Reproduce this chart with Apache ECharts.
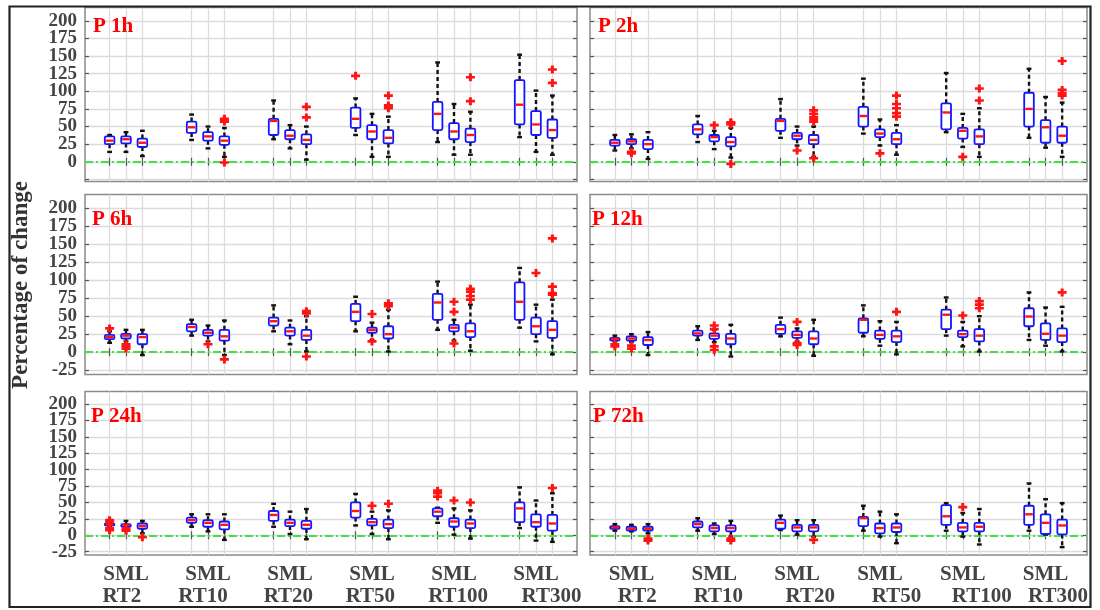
<!DOCTYPE html>
<html>
<head>
<meta charset="utf-8">
<script src="https://cdn.jsdelivr.net/npm/echarts@6/dist/echarts.min.js"></script>
<style>
  html, body { margin: 0; padding: 0; background: #fff; }
  #chart { width: 1100px; height: 610px; }
</style>
</head>
<body>
<div id="chart"></div>
<script>
// Return periods (groups) and catchment sizes (boxes inside each group)
const returnPeriods = ['RT2', 'RT10', 'RT20', 'RT50', 'RT100', 'RT300'];
const sizes = ['S', 'M', 'L'];
const panelTitles = ['P 1h', 'P 2h', 'P 6h', 'P 12h', 'P 24h', 'P 72h'];
const yTickValues = [-25, 0, 25, 50, 75, 100, 125, 150, 175, 200];

// Box statistics, one row per box: [lower whisker, Q1, median, Q3, upper whisker]
// Order: RT2 S,M,L, RT10 S,M,L, ... RT300 S,M,L
const p1hBoxes = [
  [14, 25, 30, 36, 38], [14, 26, 32, 36, 42], [8, 21, 27, 33, 44],
  [31, 41, 49, 57, 67], [19, 30, 36, 42, 50], [7, 24, 30, 36, 48],
  [32, 38, 58, 61, 87], [19, 32, 37, 45, 52], [3, 25, 31, 39, 50],
  [38, 48, 61, 77, 90], [7, 32, 43, 52, 68], [7, 26, 34, 45, 64],
  [28, 45, 68, 85, 141], [10, 32, 43, 55, 82], [10, 28, 38, 47, 71],
  [35, 53, 81, 116, 152], [14, 38, 53, 72, 101], [10, 34, 45, 60, 94]
];
// Outliers: [box index, value]
const p1hOutliers = [
  [5, 57], [5, 59], [5, 61], [5, -1], [8, 63], [8, 78], [9, 122],
  [11, 76], [11, 78], [11, 80], [11, 94], [14, 86], [14, 120], [17, 112], [17, 131]
];

const p2hBoxes = [
  [16, 23, 27, 31, 38], [19, 25, 29, 32, 39], [4, 18, 25, 31, 42],
  [28, 39, 46, 53, 65], [18, 29, 35, 38, 44], [6, 22, 28, 35, 48],
  [34, 44, 58, 61, 89], [23, 32, 37, 41, 50], [7, 25, 31, 38, 50],
  [40, 50, 65, 78, 118], [23, 35, 40, 46, 60], [10, 25, 32, 41, 52],
  [42, 46, 70, 83, 126], [21, 33, 44, 48, 68], [7, 25, 36, 46, 76],
  [34, 50, 75, 98, 132], [20, 27, 49, 59, 92], [7, 27, 37, 50, 84]
];
const p2hOutliers = [
  [1, 12], [1, 14], [4, 52], [5, 53], [5, 55], [5, 56], [5, -3],
  [7, 16], [8, 57], [8, 60], [8, 63], [8, 68], [8, 73], [8, 5],
  [10, 12], [11, 64], [11, 69], [11, 76], [11, 82], [11, 94],
  [13, 7], [14, 87], [14, 104], [17, 94], [17, 97], [17, 102], [17, 143]
];

const p6hBoxes = [
  [13, 18, 21, 24, 29], [15, 19, 23, 25.5, 31], [-4, 11, 21, 25, 31],
  [23, 29, 35, 39, 45], [15, 23, 27, 31, 37], [-4, 16, 22, 31, 44],
  [29, 37, 43, 48, 65], [11, 23, 29, 34, 44], [1, 17, 23, 31, 50],
  [29, 43, 56, 67, 77], [17, 27, 31, 34, 41], [1, 19, 25, 36, 59],
  [31, 45, 69, 81, 98], [16, 29, 34, 38, 45], [2, 21, 29, 40, 66],
  [34, 45, 70, 97, 117], [15, 25, 36, 48, 66], [-3, 20, 31, 43, 73]
];
const p6hOutliers = [
  [0, 33], [1, 5], [1, 8], [1, 11], [4, 11], [5, -10], [8, 54], [8, 57], [8, -6],
  [10, 15], [10, 53], [11, 64], [11, 66], [11, 68], [13, 12], [13, 56], [13, 70],
  [14, 73], [14, 78], [14, 84], [14, 88], [16, 110], [17, 80], [17, 82], [17, 91], [17, 158]
];

const p12hBoxes = [
  [15, 16, 18.5, 20, 23], [14, 16, 19, 22, 25], [-4, 10, 17, 21, 28],
  [17, 23, 26, 30, 36], [14, 18.5, 23, 26, 31], [-6, 11, 19, 25.5, 38],
  [22, 25.5, 32, 38, 48], [15, 20, 24, 29, 33], [-5, 11, 19, 29, 45],
  [22, 27, 45, 47, 65], [9, 18.5, 24, 30, 43], [-3, 14, 22, 30, 42],
  [23, 32, 52, 59, 76], [8, 21, 25, 30, 42], [1, 15, 23, 32, 50],
  [17, 36, 49.5, 61, 83], [9, 17, 25.5, 40, 62], [1, 14, 23, 33, 63]
];
const p12hOutliers = [
  [0, 8], [0, 11], [1, 5], [1, 9], [4, 3], [4, 8], [4, 32], [4, 37],
  [7, 10], [7, 12.5], [7, 42], [11, 56], [13, 51], [14, 61], [14, 66], [14, 71], [17, 83]
];

const p24hBoxes = [
  [13, 15, 16.7, 18, 19], [12, 13, 15.7, 17, 22], [3, 10, 14, 18, 22],
  [13, 19, 23, 27, 32], [6, 13, 19, 23, 32], [-7, 9, 16, 21, 32],
  [13, 22, 31, 37, 48], [2, 14, 19, 24, 36], [-6, 10, 16, 22, 40],
  [15, 27, 37, 50, 63], [2, 15, 20, 25, 36], [-6, 11, 17, 24, 38],
  [19, 29, 36, 41, 42], [1, 13, 21, 26, 41], [-5, 11, 18, 24, 38],
  [11, 20, 41, 50, 73], [-8, 13, 20, 32, 53], [-10, 7, 18, 31, 64]
];
const p24hOutliers = [
  [0, 8], [0, 11], [0, 21], [0, 23], [1, 7], [1, 10], [2, -3],
  [10, 45], [11, 48], [12, 59], [12, 64], [12, 68], [13, 53], [14, 50], [17, 72]
];

const p72hBoxes = [
  [7, 10, 12, 14, 17], [6, 7, 10, 13, 16], [3, 7, 10, 13, 17],
  [7, 12, 17, 21, 26], [2, 6, 11, 15, 18], [-2, 6, 11, 15, 22],
  [8, 10, 19, 24, 30], [1, 6, 12, 16, 23], [-2, 6, 12, 16, 23],
  [7, 14, 26, 28, 45], [-2, 3, 11, 18, 36], [-12, 5, 12, 18, 32],
  [7, 16, 29, 46, 49], [-2, 6, 12, 19, 34], [-14, 6, 13, 19, 40],
  [7, 16, 32, 45, 79], [1, 2, 19, 32, 55], [-18, 1.5, 15, 24, 49]
];
const p72hOutliers = [
  [2, -5], [2, -8], [5, -5], [5, -8], [8, -7], [13, 43]
];

// Horizontal placement of the return-period names under each group (in axis units)
const rtLabelShiftLeft = [-0.05, -0.06, -0.02, -0.02, 0.05, 0.19];
const rtLabelShiftRight = [0.07, 0.05, 0.16, 0.2, 0.23, 0.15];

const panels = [
  { title: panelTitles[0], boxes: p1hBoxes, outliers: p1hOutliers },
  { title: panelTitles[1], boxes: p2hBoxes, outliers: p2hOutliers },
  { title: panelTitles[2], boxes: p6hBoxes, outliers: p6hOutliers },
  { title: panelTitles[3], boxes: p12hBoxes, outliers: p12hOutliers },
  { title: panelTitles[4], boxes: p24hBoxes, outliers: p24hOutliers },
  { title: panelTitles[5], boxes: p72hBoxes, outliers: p72hOutliers }
];

// Panel geometry
const layout = [
  { left: 85,  top: 7.5,   width: 492, height: 174,   yMin: -28, tx: 93,  ty: 26.5 },
  { left: 590, top: 7.5,   width: 497, height: 174,   yMin: -28, tx: 598, ty: 26.5 },
  { left: 85,  top: 194.5, width: 492, height: 180,   yMin: -31, tx: 92,  ty: 220 },
  { left: 590, top: 194.5, width: 497, height: 180,   yMin: -31, tx: 592, ty: 220 },
  { left: 85,  top: 391.5, width: 492, height: 163.5, yMin: -30, tx: 91,  ty: 416.5 },
  { left: 590, top: 391.5, width: 497, height: 163.5, yMin: -30, tx: 593, ty: 416.5 }
];
const Y_MAX = 219;
const BOX_STEP = 0.2;
const serif = '"Liberation Serif", "Times New Roman", serif';
const labelGrey = '#444';

const boxX = i => Math.floor(i / 3) + 1 + ((i % 3) - 1) * BOX_STEP;
const boxTickValues = returnPeriods.flatMap((_, g) => sizes.map((_, k) => boxX(g * 3 + k)));
const groupCenters = returnPeriods.map((_, g) => g + 1);

function renderBox(params, api) {
  const x = api.value(0);
  const lo = api.coord([x, api.value(1)]);
  const q1 = api.coord([x, api.value(2)]);
  const md = api.coord([x, api.value(3)]);
  const q3 = api.coord([x, api.value(4)]);
  const hi = api.coord([x, api.value(5)]);
  const cx = q1[0];
  const hw = 4.8;
  const cap = 2.4;
  const whisker = { stroke: '#111', lineWidth: 2.4, lineDash: [4, 3] };
  const capStyle = { stroke: '#111', lineWidth: 2.4 };
  return {
    type: 'group',
    children: [
      { type: 'line', shape: { x1: cx, y1: q3[1], x2: cx, y2: hi[1] }, style: whisker },
      { type: 'line', shape: { x1: cx, y1: q1[1], x2: cx, y2: lo[1] }, style: whisker },
      { type: 'line', shape: { x1: cx - cap, y1: hi[1], x2: cx + cap, y2: hi[1] }, style: capStyle },
      { type: 'line', shape: { x1: cx - cap, y1: lo[1], x2: cx + cap, y2: lo[1] }, style: capStyle },
      { type: 'rect', shape: { x: cx - hw, y: q3[1], width: 2 * hw, height: q1[1] - q3[1], r: 1.5 },
        style: { fill: '#fff', stroke: '#1414ff', lineWidth: 1.8 } },
      { type: 'line', shape: { x1: cx - hw + 1, y1: md[1], x2: cx + hw - 1, y2: md[1] },
        style: { stroke: '#ff1414', lineWidth: 2.4 } }
    ]
  };
}

const plusPath = 'path://M3,0H6V3H9V6H6V9H3V6H0V3H3Z';

const grids = [], xAxes = [], yAxes = [], series = [], graphics = [];

panels.forEach((p, i) => {
  const L = layout[i];
  const col = i % 2;
  const row = Math.floor(i / 2);
  const bottomRow = row === 2;
  grids.push({
    left: L.left, top: L.top, width: L.width, height: L.height,
    show: true, borderColor: '#8a8a8a', borderWidth: 1.5, backgroundColor: '#fff',
    outerBoundsMode: 'none', containLabel: false
  });

  const tickStyle = { color: '#555', width: 1.2 };
  const xLabelFont = { fontSize: 21, fontWeight: 'bold', fontFamily: serif, color: labelGrey };
  // bottom axis: box ticks, vertical grid lines, "SML" labels
  xAxes.push({
    type: 'value', gridIndex: i, position: 'bottom', min: 0.5, max: 6.5,
    axisLine: { show: false },
    axisTick: { show: true, inside: true, length: 4, customValues: boxTickValues, lineStyle: tickStyle },
    axisLabel: Object.assign({
      show: bottomRow, customValues: groupCenters, formatter: () => 'SML',
      showMinLabel: true, showMaxLabel: true, margin: 9
    }, xLabelFont),
    splitLine: { show: true, lineStyle: { color: '#dcdcdc', width: 1.3 } }
  });
  // top axis: mirrored ticks
  xAxes.push({
    type: 'value', gridIndex: i, position: 'top', min: 0.5, max: 6.5,
    axisLine: { show: false },
    axisTick: { show: true, inside: true, length: 4, customValues: boxTickValues, lineStyle: tickStyle },
    axisLabel: { show: false },
    splitLine: { show: false }
  });
  // second label line: return-period names
  const shifts = col === 0 ? rtLabelShiftLeft : rtLabelShiftRight;
  xAxes.push({
    type: 'value', gridIndex: i, position: 'bottom', offset: 22.5, min: 0.5, max: 6.5,
    axisLine: { show: false }, axisTick: { show: false }, splitLine: { show: false },
    axisLabel: Object.assign({
      show: bottomRow,
      customValues: groupCenters.map((c, g) => c + shifts[g]),
      formatter: v => returnPeriods[Math.round(v) - 1],
      showMinLabel: true, showMaxLabel: true, margin: 9
    }, xLabelFont)
  });

  // y labels are split over two coincident axes (alternate values) so that
  // the tightly packed numbers are all kept
  const labelValues = row === 0 ? yTickValues.filter(v => v >= 0) : yTickValues;
  const evenLabels = labelValues.filter(v => v % 50 === 0);
  const oddLabels = labelValues.filter(v => v % 50 !== 0);
  const yLabelFont = { fontSize: 19, fontWeight: 'bold', fontFamily: serif, color: labelGrey, margin: 8 };
  yAxes.push({
    type: 'value', gridIndex: i, position: 'left', min: L.yMin, max: Y_MAX,
    axisLine: { show: false },
    axisTick: { show: true, inside: true, length: 4, customValues: yTickValues, lineStyle: tickStyle },
    axisLabel: Object.assign({
      show: col === 0, customValues: evenLabels, showMinLabel: true, showMaxLabel: true
    }, yLabelFont),
    splitLine: { show: true, lineStyle: { color: '#dcdcdc', width: 1.3 } }
  });
  yAxes.push({
    type: 'value', gridIndex: i, position: 'left', min: L.yMin, max: Y_MAX,
    axisLine: { show: false }, axisTick: { show: false }, splitLine: { show: false },
    axisLabel: Object.assign({
      show: col === 0, customValues: oddLabels, showMinLabel: true, showMaxLabel: true
    }, yLabelFont)
  });
  yAxes.push({
    type: 'value', gridIndex: i, position: 'right', min: L.yMin, max: Y_MAX,
    axisLine: { show: false },
    axisTick: { show: true, inside: true, length: 4, customValues: yTickValues, lineStyle: tickStyle },
    axisLabel: { show: false },
    splitLine: { show: false }
  });

  series.push({
    type: 'custom',
    xAxisIndex: i * 3, yAxisIndex: i * 3,
    renderItem: renderBox,
    encode: { x: 0, y: [1, 2, 3, 4, 5] },
    data: p.boxes.map((b, k) => [boxX(k), ...b]),
    z: 2,
    markLine: {
      silent: true, symbol: 'none', z: 1,
      label: { show: false },
      lineStyle: { color: '#45e045', width: 2.2, type: [8, 3, 2, 3] },
      data: [{ yAxis: 0 }]
    }
  });
  series.push({
    type: 'scatter',
    xAxisIndex: i * 3, yAxisIndex: i * 3,
    symbol: plusPath, symbolSize: [9, 8],
    itemStyle: { color: '#ff1414', opacity: 1 },
    data: p.outliers.map(([k, v]) => [boxX(k), v]),
    z: 3
  });

  graphics.push({
    type: 'text', x: L.tx, y: L.ty, z: 10,
    style: {
      text: p.title, fill: '#ff0000', font: 'bold 21px ' + serif,
      textAlign: 'left', textVerticalAlign: 'middle', verticalAlign: 'middle'
    }
  });
});

// Shared y-axis title
graphics.push({
  type: 'text', x: 21, y: 285, rotation: Math.PI / 2, z: 10,
  style: {
    text: 'Percentage of change', fill: '#333', font: 'bold 23px ' + serif,
    textAlign: 'center', align: 'center', textVerticalAlign: 'middle', verticalAlign: 'middle'
  }
});
// Figure frame
graphics.push({
  type: 'rect', z: 20,
  shape: { x: 9.5, y: 6.5, width: 1081, height: 600.5 },
  style: { fill: 'none', stroke: '#222', lineWidth: 2.2 }
});

const chart = echarts.init(document.getElementById('chart'), null, { renderer: 'canvas' });
chart.setOption({
  animation: false,
  backgroundColor: '#fff',
  grid: grids,
  xAxis: xAxes,
  yAxis: yAxes,
  series: series,
  graphic: graphics
});
</script>
</body>
</html>
